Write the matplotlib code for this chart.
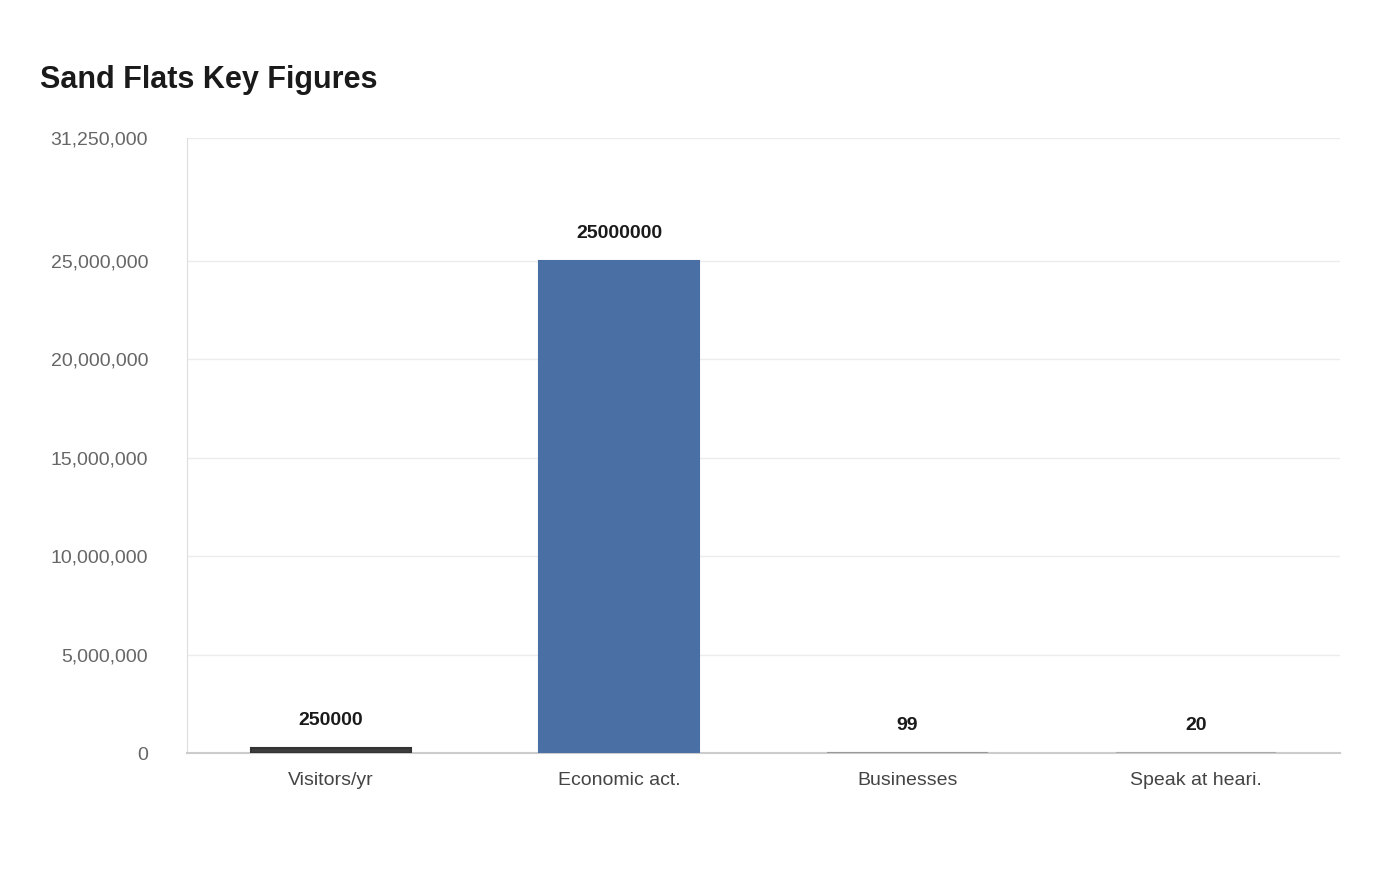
import matplotlib.pyplot as plt
from matplotlib.ticker import FuncFormatter

plt.rcParams['font.family'] = ['Liberation Sans', 'DejaVu Sans']

categories = ["Visitors/yr", "Economic act.", "Businesses", "Speak at heari."]
values = [250000, 25000000, 99, 20]
colors = ["#3d3d3d", "#4a6fa5", "#4a6fa5", "#aaaaaa"]
edges = ["#333333", "#4a6fa5", "#999999", "#aaaaaa"]
yticks = [0, 5000000, 10000000, 15000000, 20000000, 25000000, 31250000]

fig = plt.figure(figsize=(14, 8.8), dpi=100)
ax = fig.add_axes([0.1336, 0.1443, 0.8234, 0.6989])

x = range(len(categories))
ax.bar(x, values, width=0.556, color=colors, edgecolor=edges, linewidth=1.5, zorder=3)
for i, v in enumerate(values):
    ax.annotate(str(v), (i, v), xytext=(0, 14), textcoords="offset points",
                ha="center", va="bottom", fontsize=14, fontweight="bold", color="#1a1a1a")

ax.set_xlim(-0.5, len(categories) - 0.5)
ax.set_ylim(0, 31250000)
ax.set_yticks(yticks)
ax.yaxis.set_major_formatter(FuncFormatter(lambda v, p: f"{int(v):,}"))
ax.set_xticks(list(x))
ax.set_xticklabels(categories)
ax.tick_params(axis="x", length=0, pad=14, labelsize=14, labelcolor="#444444")
ax.tick_params(axis="y", length=0, pad=28, labelsize=14, labelcolor="#666666")
ax.grid(axis="y", color="#ececec", linewidth=1, zorder=0)
for s in ["top", "right"]:
    ax.spines[s].set_visible(False)
ax.spines["left"].set_color("#dddddd")
ax.spines["bottom"].set_color("#cccccc")
ax.spines["bottom"].set_linewidth(1.5)

fig.text(40 / 1400, 1 - 80 / 880, "Sand Flats Key Figures", fontsize=22,
         fontweight="bold", color="#1a1a1a", va="center", ha="left")

fig.savefig("out.png", dpi=100, facecolor="white")
